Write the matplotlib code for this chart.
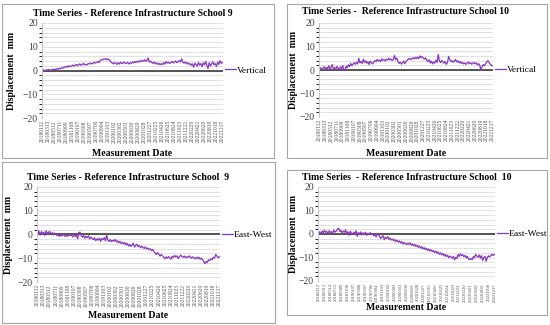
import numpy as np
import matplotlib
matplotlib.use('Agg')
import matplotlib.pyplot as plt
from matplotlib.patches import Rectangle

plt.rcParams['font.family'] = ['Liberation Serif', 'DejaVu Serif']

# tick labels (every 5th acquisition, 12-day revisit)
date_labels = ['20180112', '20180313', '20180512', '20180711', '20180909', '20181108',
               '20190107', '20190308', '20190507', '20190706', '20190904', '20191103',
               '20200102', '20200302', '20200501', '20200630', '20200829', '20201028',
               '20201227', '20210225', '20210426', '20210625', '20210824', '20211023',
               '20211222', '20220220', '20220421', '20220620', '20220819', '20221018',
               '20221217']

vert_9 = [0.0, 0.2, -0.1, 0.3, 0.1, 0.4, 0.2, 0.0, 0.5, 0.3, 0.6, 0.4, 0.8, 0.5, 1.0, 0.7,
          1.2, 1.0, 1.5, 1.3, 1.8, 1.4, 2.0, 1.6, 1.9, 2.3, 1.8, 2.2, 2.6, 2.0, 2.4,
          2.8, 2.2, 2.5, 3.0, 2.4, 2.6, 2.3, 2.9, 2.7, 3.2, 2.8, 3.0, 3.5, 3.1, 3.4,
          3.8, 3.3, 4.2, 4.6, 4.4, 4.9, 4.7, 5.0, 4.5, 4.8, 4.2, 3.6, 3.2, 2.8, 3.4,
          3.0, 2.6, 3.3, 2.7, 3.5, 2.9, 3.2, 3.6, 2.8, 3.1, 3.4, 2.7, 3.3, 3.0, 3.6,
          3.2, 3.8, 3.4, 3.9, 3.5, 4.1, 3.7, 4.3, 3.9, 4.5, 3.8, 4.2, 5.3, 3.6, 4.0,
          3.4, 3.0, 3.6, 2.8, 3.2, 2.6, 3.0, 2.4, 2.9, 2.5, 3.3, 2.7, 3.8, 3.1, 3.5,
          2.9, 3.4, 3.8, 3.2, 3.6, 4.0, 3.3, 3.7, 4.2, 3.6, 4.9, 3.5, 3.1, 3.6, 2.8,
          3.3, 2.6, 3.0, 2.2, 2.8, 1.4, 3.1, 2.5, 1.8, 3.4, 2.3, 2.9, 1.6, 3.2, 2.4,
          3.8, 2.2, 0.8, 3.3, 1.9, 2.8, 3.6, 2.4, 2.9, 1.7, 3.5, 2.6, 4.2, 3.0, 3.4]

vert_10 = [0.5, 1.0, 0.2, 0.8, 1.4, 0.3, 1.1, 0.6, 1.8, 0.4, 1.2, 2.3, 0.5, 1.0, 0.3, 1.5,
           0.8, 0.2, 1.3, 0.6, 1.9, 0.4, -0.3, 1.6, 1.0, 2.2, 1.4, 2.8, 1.8, 2.5, 3.1,
           2.4, 3.3, 2.6, 5.0, 3.0, 3.6, 2.8, 4.6, 3.2, 3.9, 2.9, 3.5, 2.3, 3.8, 3.1,
           2.6, 3.4, 4.0, 3.5, 4.5, 3.8, 4.2, 3.6, 4.8, 4.1, 4.4, 3.9, 4.6, 4.2, 5.0,
           4.3, 4.7, 4.0, 4.5, 6.2, 4.4, 5.1, 3.6, 2.8, 3.3, 2.5, 3.0, 3.8, 2.7, 3.6,
           4.2, 4.6, 5.0, 4.4, 4.8, 5.2, 4.7, 5.4, 4.9, 5.5, 4.8, 6.0, 5.3, 5.7, 5.0,
           4.6, 5.2, 4.1, 3.6, 4.4, 3.0, 3.8, 2.6, 3.4, 2.9, 4.2, 3.3, 6.6, 3.8, 3.2,
           4.1, 3.5, 2.9, 3.6, 2.4, 3.2, 5.8, 4.4, 3.6, 4.0, 3.3, 3.8, 4.5, 3.4, 3.9,
           3.1, 3.6, 2.8, 3.3, 2.6, 3.0, 2.4, 2.9, 3.4, 2.7, 3.1, 2.5, 2.9, 3.2, 2.6,
           3.0, 2.2, 2.7, 2.0, 0.0, 1.4, 2.3, 1.8, 2.6, 3.4, 4.0, 3.2, 2.5, 2.1, 1.8]

ew_9 = [0.5, 1.5, -0.3, 1.2, 0.2, 1.0, -0.4, 1.6, 0.4, 0.9, 1.3, 0.1, 0.8, -0.2, 0.6, 0.3,
        -0.5, 0.0, -0.8, -0.2, -0.6, 0.1, -0.4, -0.9, -0.3, -0.7, 0.0, -0.5, -0.2, -1.0, -0.4,
        -0.8, -0.1, -1.8, 0.8, 1.0, -0.6, -1.2, -0.3, -1.6, -0.8, -1.3, -0.5, -1.9, -1.1, -1.6,
        -2.2, -1.4, -2.6, -1.8, -2.4, -1.5, -2.9, -1.7, -2.2, -1.3, -2.7, -0.3, -2.4, -2.9, -2.2,
        -3.0, -2.4, -2.8, -2.1, -3.2, -2.6, -3.5, -2.9, -3.8, -3.3, -4.0, -3.4, -4.4, -3.7, -4.9,
        -4.2, -5.0, -4.5, -3.6, -5.3, -4.6, -4.1, -5.1, -4.7, -5.6, -4.9, -5.4, -5.9, -5.2, -6.1,
        -5.7, -6.4, -6.0, -6.8, -6.3, -7.2, -7.8, -8.5, -7.6, -8.3, -9.1, -8.4, -8.9, -9.6, -10.2,
        -9.4, -10.0, -9.3, -9.8, -10.4, -9.2, -9.7, -8.8, -9.5, -9.0, -10.1, -9.4, -8.7, -9.2, -9.6,
        -9.1, -9.8, -9.3, -9.7, -9.0, -9.5, -10.0, -9.4, -9.8, -10.3, -9.6, -10.1, -9.5, -10.4, -9.9,
        -10.6, -11.2, -12.3, -11.4, -11.8, -10.7, -11.0, -10.2, -10.6, -9.6, -9.9, -8.4, -9.1, -9.8, -9.4]

ew_10 = [0.3, 0.9, -0.2, 1.3, 0.5, 1.6, 0.7, 1.1, 0.2, 1.4, 0.6, 1.0, 0.3, 1.7, 0.8, 1.2,
         2.0, 2.5, 1.1, 1.6, 0.5, 1.3, 0.7, 1.8, 0.2, 1.0, -0.5, 1.2, 0.4, -0.2, 0.8,
         0.1, 1.4, -1.0, 0.6, 0.0, 0.9, -0.4, 0.5, -0.1, 0.7, -0.6, 0.3, -0.3, 0.6, -0.2,
         0.2, -0.8, -0.1, -1.2, -0.5, 0.3, -1.0, -2.0, -1.2, -0.7, -2.4, -1.4, -1.9, -1.1, -2.3,
         -1.7, -2.6, -2.1, -2.9, -2.4, -3.2, -2.7, -3.5, -2.9, -3.8, -3.3, -4.3, -3.6, -4.0, -4.6,
         -3.9, -4.4, -3.7, -4.8, -4.2, -5.0, -4.4, -5.3, -4.7, -5.7, -5.1, -6.0, -5.4, -6.4, -5.8,
         -6.6, -6.1, -7.0, -6.4, -7.3, -6.7, -7.5, -7.0, -7.9, -7.3, -8.2, -7.6, -8.6, -8.0, -8.9,
         -8.3, -9.3, -8.7, -9.6, -9.0, -10.1, -9.4, -9.8, -10.3, -9.5, -11.0, -9.9, -10.4, -8.7, -9.6,
         -8.4, -9.2, -8.8, -9.7, -9.1, -10.2, -9.5, -10.8, -10.9, -10.4, -11.0, -9.6, -10.2, -8.7, -9.4,
         -9.9, -8.9, -10.3, -9.2, -11.3, -10.1, -9.5, -11.6, -10.0, -9.3, -9.8, -9.0, -8.6, -9.2, -8.7]

titles = ['Time Series - Reference Infrastructure School 9',
          'Time Series -  Reference Infrastructure School 10',
          'Time Series - Reference Infrastructure School  9',
          'Time Series  - Reference Infrastructure School  10']
series = [vert_9, vert_10, ew_9, ew_10]
names = ['Vertical', 'Vertical', 'East-West', 'East-West']

W, H = 550, 325
fig = plt.figure(figsize=(5.5, 3.25), dpi=100)

# pixel boxes: frame (l, t, r, b) and plot area (l, t, r, b)
frames = [(2, 4, 274, 158), (287, 4, 547, 158), (2, 162, 275, 323), (287, 170, 547, 315)]
axboxes = [(42, 23, 223, 118), (319, 23, 493, 117), (37, 187, 220, 282), (318, 187, 495, 281)]
title_y = [14, 11, 177, 177]
xlab_y = [153, 153, 316, 308]
ylab_x = [12, 293, 9, 294]
tick_fs = [4, 4, 4, 3.3]

purple = '#8a35c0'

for k in range(4):
    fl, ft, fr, fb = frames[k]
    fig.patches.append(Rectangle((fl / W, 1 - fb / H), (fr - fl) / W, (fb - ft) / H,
                                 transform=fig.transFigure, fill=False,
                                 edgecolor='#a6a6a6', lw=0.8))
    l, t, r, b = axboxes[k]
    ax = fig.add_axes([l / W, 1 - b / H, (r - l) / W, (b - t) / H])
    y = series[k]
    x = np.arange(len(y))
    ax.plot(x, y, color=purple, lw=0.9, label=names[k])
    ax.axhline(0, color='#3a3a3a', lw=1.2, zorder=1)
    ax.set_ylim(-20, 20)
    ax.set_xlim(-0.5, len(y) - 0.5)
    ax.set_yticks([-20, -10, 0, 10, 20])
    ax.set_yticklabels(['\u221220', '\u221210', '0', '10', '20'], fontsize=7)
    ax.set_yticks(np.arange(-20, 21, 2), minor=True)
    ax.grid(axis='y', which='both', color='#dcdcdc', lw=0.6)
    ax.set_axisbelow(True)
    ax.set_xticks(np.arange(0, len(y), 5))
    ax.set_xticklabels(date_labels, rotation=90, fontsize=tick_fs[k], color='#505050')
    ax.tick_params(axis='both', length=0, pad=1.5)
    ax.tick_params(axis='y', colors='#404040', pad=3)
    for s in ['top', 'right', 'bottom']:
        ax.spines[s].set_visible(False)
    ax.spines['left'].set_color('#c8c8c8')
    ax.legend(loc='center left', bbox_to_anchor=(1.0, 0.5), frameon=False,
              fontsize=6.8, handlelength=1.1, handletextpad=0.1,
              borderpad=0.1, borderaxespad=0.15)
    fig.text((l + r) / 2 / W, 1 - title_y[k] / H, titles[k], ha='center', va='center',
             fontsize=7, fontweight='bold')
    fig.text((l + r) / 2 / W, 1 - xlab_y[k] / H, 'Measurement Date', ha='center',
             va='center', fontsize=7, fontweight='bold')
    fig.text(ylab_x[k] / W, 1 - (t + b) / 2 / H, 'Displacement  mm', rotation=90,
             ha='center', va='center', fontsize=7, fontweight='bold')

fig.savefig('out.png', dpi=100, facecolor='white')
